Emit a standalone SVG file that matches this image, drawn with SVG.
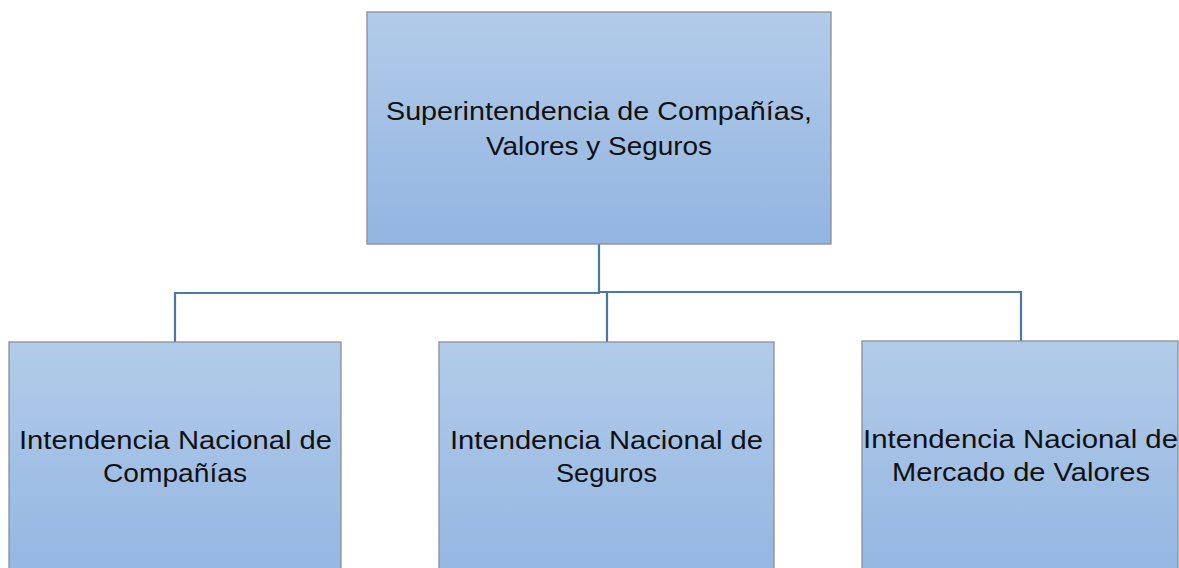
<svg xmlns="http://www.w3.org/2000/svg" width="1179" height="568" viewBox="0 0 1179 568">
<defs>
<linearGradient id="g" x1="0" y1="0" x2="0" y2="1">
<stop offset="0" stop-color="#b2cbe9"/>
<stop offset="1" stop-color="#93b5e1"/>
</linearGradient>
<linearGradient id="g2" gradientUnits="userSpaceOnUse" x1="0" y1="342" x2="0" y2="568">
<stop offset="0" stop-color="#b2cbe9"/>
<stop offset="1" stop-color="#95b7e2"/>
</linearGradient>
</defs>
<style>
.box{fill:url(#g);stroke:#8a8f96;stroke-width:1.3}
.box2{fill:url(#g2);stroke:#8a8f96;stroke-width:1.3}
.t{font-family:"Liberation Sans",Arial,sans-serif;font-size:26.5px;fill:#111;text-anchor:middle}
.c{fill:none;stroke:#4a78a8;stroke-width:2.2}
</style>
<rect width="1179" height="568" fill="#fff"/>
<g id="connectors">
<path class="c" d="M599 244 V293 M175 342 V293 H600 M600 292 H1021 V341 M607 293 V342"/>
</g>
<g id="n0">
<rect class="box" x="367" y="12" width="464" height="232"/>
<text class="t" x="599" y="120" textLength="426" lengthAdjust="spacingAndGlyphs">Superintendencia de Compañías,</text>
<text class="t" x="599" y="155" textLength="226" lengthAdjust="spacingAndGlyphs">Valores y Seguros</text>
</g>
<g id="n1">
<rect class="box2" x="9" y="342" width="332" height="240"/>
<text class="t" x="175.5" y="449" textLength="313" lengthAdjust="spacingAndGlyphs">Intendencia Nacional de</text>
<text class="t" x="175" y="482" textLength="144" lengthAdjust="spacingAndGlyphs">Compañías</text>
</g>
<g id="n2">
<rect class="box2" x="439" y="342" width="335" height="240"/>
<text class="t" x="606.5" y="449" textLength="313" lengthAdjust="spacingAndGlyphs">Intendencia Nacional de</text>
<text class="t" x="606.5" y="482" textLength="101" lengthAdjust="spacingAndGlyphs">Seguros</text>
</g>
<g id="n3">
<rect class="box2" x="862" y="341" width="316" height="240"/>
<text class="t" x="1020.5" y="448" textLength="315" lengthAdjust="spacingAndGlyphs">Intendencia Nacional de</text>
<text class="t" x="1021" y="481" textLength="258" lengthAdjust="spacingAndGlyphs">Mercado de Valores</text>
</g>
</svg>
